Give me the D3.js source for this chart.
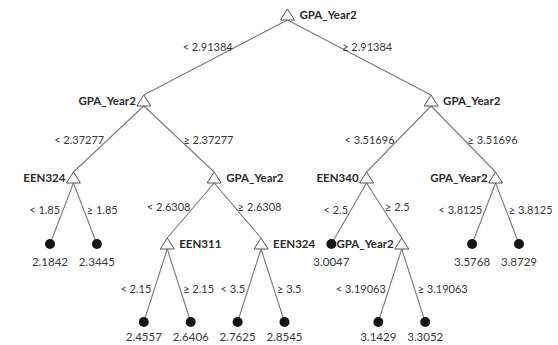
<!DOCTYPE html>
<html><head><meta charset="utf-8">
<script src="https://cdn.jsdelivr.net/npm/d3@7"></script>
<style>body{margin:0;background:#fff}svg{display:block}</style>
</head><body>
<svg id="c" width="558" height="345"></svg>
<script>
// ---- data ----
const nodeIds      = ["n0","n1","n2","n3","n4","n5","n6","n7","n8","n9","n10","n11","n12","n13","n14","n15","n16","n17","n18","n19","n20"];
const nodeParents  = [null,"n0","n0","n1","n1","n3","n3","n4","n4","n7","n7","n8","n8","n2","n2","n13","n13","n16","n16","n14","n14"];
const splitVars    = ["GPA_Year2","GPA_Year2","GPA_Year2","EEN324","GPA_Year2",null,null,"EEN311","EEN324",null,null,null,null,"EEN340","GPA_Year2",null,"GPA_Year2",null,null,null,null];
const edgeLabels   = [null,"< 2.91384","\u2265 2.91384","< 2.37277","\u2265 2.37277","< 1.85","\u2265 1.85","< 2.6308","\u2265 2.6308","< 2.15","\u2265 2.15","< 3.5","\u2265 3.5","< 3.51696","\u2265 3.51696","< 2.5","\u2265 2.5","< 3.19063","\u2265 3.19063","< 3.8125","\u2265 3.8125"];
const leafValues   = [null,null,null,null,null,"2.1842","2.3445",null,null,"2.4557","2.6406","2.7625","2.8545",null,null,"3.0047",null,"3.1429","3.3052","3.5768","3.8729"];

// ---- style (not data) ----
const leftLabelNodes = new Set(["n1","n3","n13","n14","n16"]);
const edgeLabelFrac = [0.36, 0.52, 0.44, 0.55];

const rows = nodeIds.map((id,i)=>({id, parent:nodeParents[i], split:splitVars[i], edge:edgeLabels[i], value:leafValues[i]}));
const root = d3.stratify().id(d=>d.id).parentId(d=>d.parent)(rows);

const leaves = root.leaves();
const xLeaf = d3.scaleLinear().domain([0, leaves.length-1]).range([50, 519]);
const yDepth = d3.scaleLinear().domain([0,1,2,3,4]).range([15,101,178,244,322]);

leaves.forEach((l,i)=>{ l.x = xLeaf(i); });
root.eachAfter(n=>{ if(n.children){ n.x = d3.mean(n.children, c=>c.x); } });
root.each(n=>{ n.y = yDepth(n.depth); });

const svg = d3.select("#c");
const font = "Lato, 'Open Sans', sans-serif";
const triTop = 6, triBot = 5, triHalf = 7;

// edges
const links = root.links();
svg.append("g").selectAll("line").data(links).join("line")
  .attr("x1", d=>d.source.x).attr("y1", d=>d.source.y + triBot)
  .attr("x2", d=>d.target.x).attr("y2", d=>d.target.children ? d.target.y - triTop : d.target.y)
  .attr("stroke","#7a7a7a").attr("stroke-width",1.1);

// edge labels
svg.append("g").selectAll("text").data(links).join("text")
  .each(function(d){
    const x1=d.source.x, y1=d.source.y+triBot, x2=d.target.x, y2=d.target.children ? d.target.y-triTop : d.target.y;
    const f = edgeLabelFrac[d.source.depth];
    const ly = y1 + (y2-y1)*f, lx = x1 + (x2-x1)*f;
    const isLeft = d.target.x < d.source.x;
    d3.select(this).attr("x", isLeft ? lx-3 : lx+3).attr("y", ly+4)
      .attr("text-anchor", isLeft ? "end" : "start");
  })
  .text(d=>d.target.data.edge)
  .attr("font-family",font).attr("font-size",11).attr("fill","#3a3a3a");

// internal nodes (triangles)
const internal = root.descendants().filter(n=>n.children);
svg.append("g").selectAll("path").data(internal).join("path")
  .attr("d", d=>`M${d.x},${d.y-triTop}L${d.x+triHalf},${d.y+triBot}L${d.x-triHalf},${d.y+triBot}Z`)
  .attr("fill","#fff").attr("stroke","#555").attr("stroke-width",1);

svg.append("g").selectAll("text").data(internal).join("text")
  .attr("x", d=>leftLabelNodes.has(d.data.id) ? d.x-8 : d.x+12)
  .attr("y", d=>d.y+4)
  .attr("text-anchor", d=>leftLabelNodes.has(d.data.id) ? "end" : "start")
  .attr("font-family",font).attr("font-size",11.5).attr("font-weight","bold").attr("fill","#2b2b2b")
  .text(d=>d.data.split);

// leaves
svg.append("g").selectAll("circle").data(leaves).join("circle")
  .attr("cx", d=>d.x).attr("cy", d=>d.y).attr("r",5).attr("fill","#151515");

svg.append("g").selectAll("text").data(leaves).join("text")
  .attr("x", d=>d.x).attr("y", d=>d.y + (d.depth===4 ? 19 : 22))
  .attr("text-anchor","middle")
  .attr("font-family",font).attr("font-size",11.5).attr("fill","#3a3a3a")
  .text(d=>d.data.value);
</script>
</body></html>
